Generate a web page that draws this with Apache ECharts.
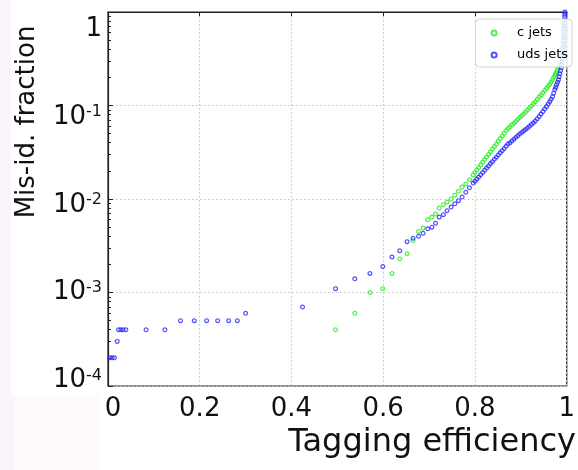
<!DOCTYPE html>
<html>
<head>
<meta charset="utf-8">
<script src="https://cdn.jsdelivr.net/npm/echarts@6/dist/echarts.min.js"></script>
<style>
  html, body { margin: 0; padding: 0; background: #fff; }
  #chart { width: 578px; height: 470px; }
</style>
</head>
<body>
<div id="chart"></div>
<script>
// Tagging efficiency (x) vs. mis-identification fraction (y, log scale)
const seriesNames = ['c jets', 'uds jets'];

const cEff = [0.496, 0.538, 0.571, 0.599, 0.619, 0.636, 0.652, 0.665, 0.677, 0.687,
  0.697, 0.706, 0.714, 0.722, 0.731, 0.739, 0.748, 0.756, 0.764, 0.772,
  0.780, 0.788, 0.796, 0.800, 0.804, 0.808, 0.8125, 0.8168, 0.821, 0.8253,
  0.8295, 0.8338, 0.838, 0.8423, 0.8465, 0.8508, 0.855, 0.8593, 0.8635, 0.8678,
  0.872, 0.8763, 0.8805, 0.8848, 0.889, 0.8933, 0.8975, 0.9018, 0.906, 0.9103,
  0.9145, 0.9188, 0.923, 0.9273, 0.9315, 0.9358, 0.940, 0.944, 0.948, 0.952,
  0.956, 0.9595, 0.963, 0.966, 0.969, 0.9715, 0.974, 0.976, 0.978, 0.980,
  0.982, 0.9835, 0.985, 0.9865, 0.988, 0.989, 0.990, 0.991, 0.992, 0.9925,
  0.993, 0.9935, 0.994, 0.9945, 0.995, 0.9955, 0.996];
const cMisid = [0.0004, 0.0006, 0.0010, 0.0011, 0.0016, 0.0023, 0.0026, 0.0036, 0.0045, 0.0049,
  0.0060, 0.0064, 0.0069, 0.0080, 0.0087, 0.0093, 0.0100, 0.0110, 0.0121, 0.0134,
  0.0145, 0.0161, 0.0181, 0.0192, 0.0204, 0.0217, 0.0232, 0.0248, 0.0264, 0.0281,
  0.0300, 0.0321, 0.0342, 0.0365, 0.0388, 0.0415, 0.0444, 0.0473, 0.0504, 0.0539,
  0.0567, 0.0592, 0.0618, 0.0645, 0.0673, 0.0707, 0.0743, 0.0775, 0.0809, 0.0850,
  0.0893, 0.0938, 0.0986, 0.1041, 0.110, 0.1163, 0.123, 0.1298, 0.137, 0.1448,
  0.153, 0.1608, 0.169, 0.1787, 0.189, 0.1997, 0.211, 0.2203, 0.230, 0.2445,
  0.260, 0.2765, 0.294, 0.3166, 0.341, 0.3623, 0.385, 0.4097, 0.436, 0.4636,
  0.493, 0.5306, 0.571, 0.6148, 0.662, 0.7093, 0.760];

const udsEff = [0.004, 0.009, 0.014, 0.020, 0.023, 0.028, 0.033, 0.039, 0.083, 0.124,
  0.158, 0.188, 0.215, 0.239, 0.263, 0.282, 0.300, 0.424, 0.496, 0.538,
  0.571, 0.599, 0.619, 0.636, 0.652, 0.665, 0.677, 0.687, 0.697, 0.706,
  0.714, 0.722, 0.731, 0.739, 0.748, 0.756, 0.764, 0.772, 0.780, 0.788,
  0.796, 0.800, 0.804, 0.808, 0.8125, 0.8168, 0.821, 0.8253, 0.8295, 0.8338,
  0.838, 0.8423, 0.8465, 0.8508, 0.855, 0.8593, 0.8635, 0.8678, 0.872, 0.8763,
  0.8805, 0.8848, 0.889, 0.8933, 0.8975, 0.9018, 0.906, 0.9103, 0.9145, 0.9188,
  0.923, 0.9273, 0.9315, 0.9358, 0.940, 0.944, 0.948, 0.952, 0.956, 0.9595,
  0.963, 0.966, 0.969, 0.9715, 0.974, 0.976, 0.978, 0.980, 0.982, 0.9835,
  0.985, 0.9865, 0.988, 0.989, 0.990, 0.991, 0.992, 0.9925, 0.993, 0.99325,
  0.9935, 0.99375, 0.994, 0.99425, 0.9945, 0.99475, 0.995, 0.99525, 0.9955, 0.99575,
  0.996];
const udsMisid = [0.0002, 0.0002, 0.0002, 0.0003, 0.0004, 0.0004, 0.0004, 0.0004, 0.0004, 0.0004,
  0.0005, 0.0005, 0.0005, 0.0005, 0.0005, 0.0005, 0.0006, 0.0007, 0.0011, 0.0014,
  0.0016, 0.0019, 0.0024, 0.0028, 0.0035, 0.0038, 0.0040, 0.0043, 0.0048, 0.0050,
  0.0055, 0.0064, 0.0068, 0.0075, 0.0082, 0.0089, 0.0096, 0.0105, 0.0118, 0.0132,
  0.0148, 0.0155, 0.0164, 0.0172, 0.0182, 0.0192, 0.0203, 0.0214, 0.0225, 0.0239,
  0.0251, 0.0266, 0.0279, 0.0296, 0.0312, 0.0329, 0.0347, 0.0366, 0.0387, 0.0400,
  0.0417, 0.0435, 0.0454, 0.0474, 0.0495, 0.0514, 0.0533, 0.0553, 0.0574, 0.0599,
  0.0626, 0.0653, 0.0682, 0.0721, 0.0762, 0.0810, 0.0861, 0.0915, 0.0973, 0.1035,
  0.110, 0.1168, 0.124, 0.1355, 0.148, 0.1572, 0.167, 0.1777, 0.189, 0.2034,
  0.219, 0.2359, 0.254, 0.2733, 0.294, 0.3244, 0.358, 0.3901, 0.425, 0.4577,
  0.493, 0.5306, 0.571, 0.6148, 0.662, 0.7093, 0.760, 0.8225, 0.890, 0.9434,
  1.000];

const xTickLabels = ['0', '0.2', '0.4', '0.6', '0.8', '1'];
// y tick labels, bottom to top: [base, exponent]
const yTickLabels = [['10', '-4'], ['10', '-3'], ['10', '-2'], ['10', '-1'], ['1', '']];

const xTitle = 'Tagging efficiency';
const yTitle = 'Mis-id. fraction';

const colors = { c: '#22ee22', uds: '#2424ff' };
const FONT = 'DejaVu Sans';

// minor tick positions inside each decade, expressed as log10 exponents
const minorExp = [];
for (let d = -4; d < 0; d++) {
  for (let m = 2; m <= 9; m++) minorExp.push(d + Math.log10(m));
}

const toPoints = (xs, ys) => xs.map((x, i) => [x, ys[i]]);

const chart = echarts.init(document.getElementById('chart'), null, { renderer: 'canvas' });

const markerStyle = (c) => ({ color: 'rgba(255,255,255,0)', borderColor: c, borderWidth: 1.2 });

chart.setOption({
  animation: false,
  backgroundColor: '#ffffff',
  grid: [
    { left: 108, right: -2, top: 12, bottom: 84, show: true, borderColor: '#222', borderWidth: 1.2, backgroundColor: 'transparent' },
    { left: 108, right: -2, top: 29, bottom: 89.5, show: false }
  ],
  xAxis: [
    {
      gridIndex: 0, type: 'value', min: 0, max: 1, interval: 0.2,
      axisLine: { show: true, lineStyle: { color: '#222', width: 1.2 } },
      axisTick: { show: true, inside: false, length: 4, lineStyle: { color: '#222' } },
      splitLine: { show: true, lineStyle: { color: '#c4c4c4', width: 1, type: [1.5, 2.5] } },
      axisLabel: {
        margin: 10, color: '#111',
        formatter: (v) => {
          const i = Math.round(v / 0.2);
          const t = xTickLabels[i];
          if (i === 0) return '{first|' + t + '}';
          if (i === xTickLabels.length - 1) return '{last|' + t + '}';
          return '{n|' + t + '}';
        },
        rich: {
          n: { fontFamily: FONT, fontSize: 26, color: '#111' },
          first: { fontFamily: FONT, fontSize: 26, color: '#111', padding: [0, 0, 0, 10] },
          last: { fontFamily: FONT, fontSize: 26, color: '#111', padding: [0, 0, 0, 0] }
        }
      }
    },
    { gridIndex: 1, type: 'value', min: 0, max: 1, show: false }
  ],
  yAxis: [
    {
      gridIndex: 0, type: 'log', logBase: 10, min: 1e-4, max: 1,
      axisLine: { show: true, lineStyle: { color: '#222', width: 1.2 } },
      axisTick: { show: true, inside: true, length: 5, lineStyle: { color: '#222' } },
      axisLabel: { show: false },
      splitLine: { show: true, lineStyle: { color: '#c4c4c4', width: 1, type: [1.5, 2.5] } }
    },
    {
      // minor ticks, placed in exponent space over the same span
      gridIndex: 0, type: 'value', min: -4, max: 0, position: 'left',
      axisLine: { show: false },
      axisTick: { show: true, inside: true, length: 3, customValues: minorExp, lineStyle: { color: '#222' } },
      axisLabel: { show: false },
      splitLine: { show: false }
    },
    {
      // decade labels
      gridIndex: 1, type: 'value', min: -4, max: 0, interval: 1, position: 'left',
      axisLine: { show: false }, axisTick: { show: false }, splitLine: { show: false },
      axisLabel: {
        margin: 6,
        formatter: (v) => {
          const lab = yTickLabels[Math.round(v) + 4];
          if (!lab[1]) return '{one|' + lab[0] + '}';
          return '{b|' + lab[0] + '}{s|' + lab[1] + '}';
        },
        rich: {
          one: { fontFamily: FONT, fontSize: 26, lineHeight: 26, color: '#111' },
          b: { fontFamily: FONT, fontSize: 26, lineHeight: 26, padding: [5, 0, 0, 0], verticalAlign: 'bottom', color: '#111' },
          s: { fontFamily: FONT, fontSize: 16, lineHeight: 16, verticalAlign: 'top', color: '#111' }
        }
      }
    }
  ],
  legend: {
    data: [{ name: seriesNames[0], icon: 'circle' }, { name: seriesNames[1], icon: 'circle' }],
    orient: 'vertical', right: 6, top: 19,
    itemWidth: 36, itemHeight: 5, itemGap: 8,
    padding: [7, 4, 5, 15],
    borderColor: '#d4d4d4', borderWidth: 1, borderRadius: 4,
    backgroundColor: 'rgba(255,255,255,0.85)',
    textStyle: { fontFamily: FONT, fontSize: 13, color: '#000', lineHeight: 14 }
  },
  graphic: [
    { type: 'rect', z: -10, shape: { x: 0, y: 0, width: 11, height: 395 }, style: { fill: '#fcf4fb' } },
    { type: 'rect', z: -10, shape: { x: 0, y: 395, width: 15, height: 75 }, style: { fill: '#fcf4fb' } },
    { type: 'rect', z: -10, shape: { x: 15, y: 395, width: 85, height: 75 }, style: { fill: '#fefafe' } },
    {
      type: 'text', x: 27, y: 122, rotation: Math.PI / 2,
      style: { text: yTitle, font: '26px "DejaVu Sans"', fill: '#111', textAlign: 'center', textVerticalAlign: 'middle' }
    },
    {
      type: 'text', x: 576, y: 443,
      style: { text: xTitle, font: '32px "DejaVu Sans"', fill: '#111', textAlign: 'right', textVerticalAlign: 'middle' }
    }
  ],
  series: [
    {
      name: seriesNames[0], type: 'scatter', xAxisIndex: 0, yAxisIndex: 0,
      symbol: 'circle', symbolSize: 3.8,
      itemStyle: markerStyle(colors.c),
      emphasis: { disabled: true },
      data: toPoints(cEff, cMisid)
    },
    {
      name: seriesNames[1], type: 'scatter', xAxisIndex: 0, yAxisIndex: 0,
      symbol: 'circle', symbolSize: 3.8,
      itemStyle: markerStyle(colors.uds),
      emphasis: { disabled: true },
      data: toPoints(udsEff, udsMisid)
    }
  ]
});
</script>
</body>
</html>
